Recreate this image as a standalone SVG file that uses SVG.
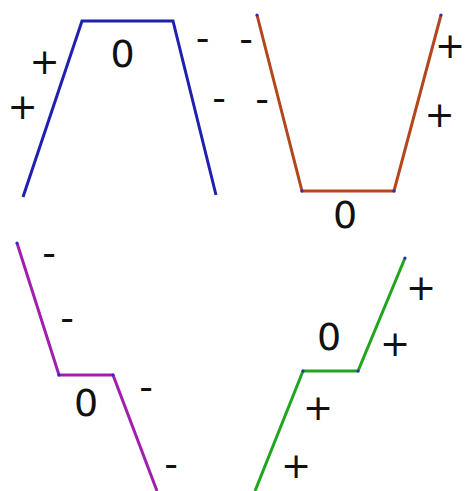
<svg xmlns="http://www.w3.org/2000/svg" width="466" height="491" viewBox="0 0 466 491">
<style>
.ln{fill:none;stroke-width:3;stroke-linejoin:miter;stroke-linecap:butt}
.dot{fill:#2a2ad0}
text{font-family:"DejaVu Sans",sans-serif;font-size:36px;fill:#111;text-anchor:middle}
.m{font-size:38px}
.z{font-size:38px}
</style>
<rect width="466" height="491" fill="#fff"/>
<g id="curve-blue">
<polyline class="ln" stroke="#1f1fb0" points="23,197 82,21 173,21 216,195"/>
<text x="44.5" y="74">+</text>
<text x="22.5" y="119">+</text>
<text class="z" x="122.5" y="67">0</text>
<text class="m" x="202.5" y="51">-</text>
<text class="m" x="219" y="111">-</text>
</g>
<g id="curve-orange">
<polyline class="ln" stroke="#b4461c" points="257,15 302,191 394,191 441,15"/>
<circle class="dot" cx="257" cy="15" r="1.6"/><circle class="dot" cx="302" cy="191" r="1.6"/><circle class="dot" cx="394" cy="191" r="1.6"/><circle class="dot" cx="441" cy="15" r="1.6"/>
<text class="m" x="246" y="52">-</text>
<text class="m" x="262" y="112">-</text>
<text x="450" y="58">+</text>
<text x="439.5" y="127">+</text>
<text class="z" x="345" y="228">0</text>
</g>
<g id="curve-purple">
<polyline class="ln" stroke="#a21fae" points="17,243 59,375 113,375 157,491"/>
<circle class="dot" cx="17" cy="243" r="1.6"/><circle class="dot" cx="59" cy="375" r="1.6"/><circle class="dot" cx="113" cy="375" r="1.6"/>
<text class="m" x="49" y="266">-</text>
<text class="m" x="67" y="331">-</text>
<text class="z" x="86" y="416">0</text>
<text class="m" x="146" y="400">-</text>
<text class="m" x="171" y="477">-</text>
</g>
<g id="curve-green">
<polyline class="ln" stroke="#22a41e" points="405,258 358,371 303,371 255,491"/>
<circle class="dot" cx="405" cy="258" r="1.6"/><circle class="dot" cx="358" cy="371" r="1.6"/><circle class="dot" cx="303" cy="371" r="1.6"/>
<text x="421" y="300">+</text>
<text x="395" y="356">+</text>
<text class="z" x="329" y="350">0</text>
<text x="318" y="420">+</text>
<text x="296" y="478">+</text>
</g>
</svg>
